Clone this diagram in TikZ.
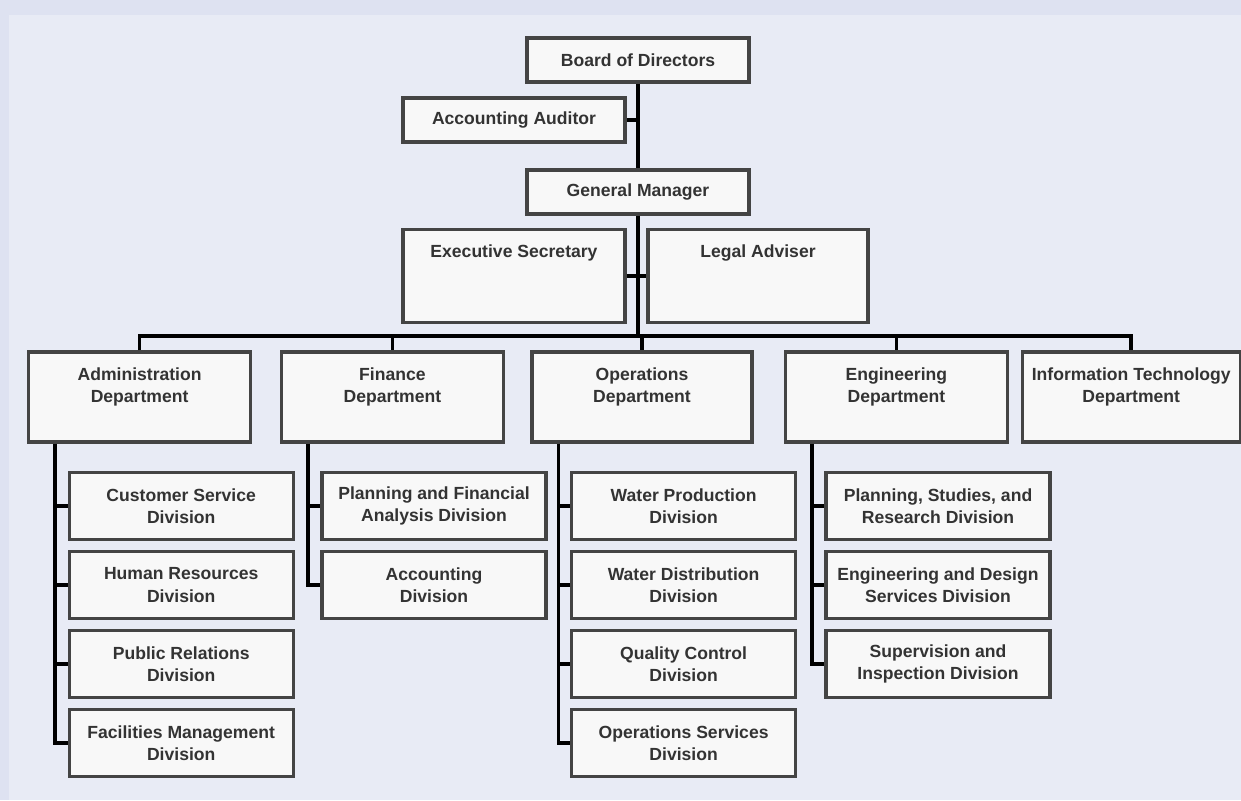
\documentclass[tikz,border=0pt]{standalone}
\usepackage{fontspec}
\setmainfont{Liberation Sans}
\usetikzlibrary{positioning,calc}

\definecolor{frame}{HTML}{DEE2F1}
\definecolor{paper}{HTML}{E8EBF5}
\definecolor{boxline}{HTML}{444444}
\definecolor{boxfill}{HTML}{F8F8F8}
\definecolor{ink}{HTML}{333333}

% text sitting at the top of a tall box
\newcommand{\topbox}[2]{\parbox[t][#1][t]{5.3cm}{\centering\rule{0pt}{0.7cm}#2}}

\begin{document}
\begin{tikzpicture}[node distance=2cm,on grid,
    font=\fontsize{12.5}{16}\selectfont\bfseries,
    unit/.style={draw=boxline,line width=2.3pt,fill=boxfill,text=ink,align=center,
                 minimum width=5.55cm,minimum height=1.1cm},
    dept/.style={unit,inner sep=0pt,minimum height=2.25cm},
    division/.style={unit,inner sep=1pt,minimum width=5.6cm,minimum height=1.675cm},
    link/.style={line width=2.6pt,black}]

      \fill[frame] (0,0) rectangle (31.025,-20);
      \fill[paper] (0.225,-0.375) rectangle (31.025,-20);
      \useasboundingbox (0,0) rectangle (31.025,-20);

      \node[unit] (board) at (15.95,-1.5) {Board of Directors};
      \node[unit] (auditor) [below left=1.5cm and 3.1cm of board] {Accounting Auditor};
      \node[unit] (gm) [below=3.3cm of board] {General Manager};
      \node[dept,minimum height=2.325cm] (secretary) [below left=2.1cm and 3.1cm of gm]
        {\topbox{2.325cm}{Executive Secretary}};
      \node[dept,minimum height=2.325cm,minimum width=5.5cm] (legal) [below right=2.1cm and 3.0cm of gm]
        {\topbox{2.325cm}{Legal Adviser}};

      % departments
      \node[dept] (admin) [below left=5.125cm and 12.46cm of gm]
        {\topbox{2.25cm}{Administration\\Department}};
      \node[dept] (finance) [right=6.32cm of admin] {\topbox{2.25cm}{Finance\\Department}};
      \node[dept,minimum width=5.5cm] (ops) [right=6.24cm of finance] {\topbox{2.25cm}{Operations\\Department}};
      \node[dept] (eng) [right=6.36cm of ops] {\topbox{2.25cm}{Engineering\\Department}};
      \node[dept,minimum width=5.45cm] (it) [right=5.87cm of eng] {\topbox{2.25cm}{Information Technology\\Department}};

      % divisions
      \node[division] (custservice) [below right=2.725cm and 1.04cm of admin] {Customer Service\\Division};
      \node[division] (humanres) [below=1.975cm of custservice] {Human Resources\\Division};
      \node[division] (pubrel) [below=1.975cm of humanres] {Public Relations\\Division};
      \node[division] (facilities) [below=1.975cm of pubrel] {Facilities Management\\Division};

      \node[division] (planfin) [below right=2.725cm and 1.04cm of finance] {Planning and Financial\\Analysis Division};
      \node[division] (accounting) [below=1.975cm of planfin] {Accounting\\Division};

      \node[division] (waterprod) [below right=2.725cm and 1.04cm of ops] {Water Production\\Division};
      \node[division] (waterdist) [below=1.975cm of waterprod] {Water Distribution\\Division};
      \node[division] (quality) [below=1.975cm of waterdist] {Quality Control\\Division};
      \node[division] (opservices) [below=1.975cm of quality] {Operations Services\\Division};

      \node[division] (planstudies) [below right=2.725cm and 1.04cm of eng] {Planning, Studies, and\\Research Division};
      \node[division] (engdesign) [below=1.975cm of planstudies] {Engineering and Design\\Services Division};
      \node[division] (supervision) [below=1.975cm of engdesign] {Supervision and\\Inspection Division};

      % top of the chart
      \draw[link] (board) -- (gm);
      \draw[link] (auditor.east) -- (auditor -| board);
      \draw[link] (secretary) -- (legal);
      \coordinate (bus) at ($(gm)+(0,-3.6)$);
      \draw[link] (gm) -- (bus);
      \draw[link] (admin) |- (bus) -| (it);
      \draw[link] (finance |- bus) -- (finance);
      \draw[link] (ops |- bus) -- (ops);
      \draw[link] (eng |- bus) -- (eng);

      % branches down to the divisions
      \coordinate (adminbr) at ($(admin.south west)+(0.7,0)$);
      \draw[link] (adminbr) |- (facilities);
      \draw[link] (adminbr |- custservice) -- (custservice);
      \draw[link] (adminbr |- humanres) -- (humanres);
      \draw[link] (adminbr |- pubrel) -- (pubrel);

      \coordinate (financebr) at ($(finance.south west)+(0.7,0)$);
      \draw[link] (financebr) |- (accounting);
      \draw[link] (financebr |- planfin) -- (planfin);

      \coordinate (opsbr) at ($(ops.south west)+(0.7,0)$);
      \draw[link] (opsbr) |- (opservices);
      \draw[link] (opsbr |- waterprod) -- (waterprod);
      \draw[link] (opsbr |- waterdist) -- (waterdist);
      \draw[link] (opsbr |- quality) -- (quality);

      \coordinate (engbr) at ($(eng.south west)+(0.7,0)$);
      \draw[link] (engbr) |- (supervision);
      \draw[link] (engbr |- planstudies) -- (planstudies);
      \draw[link] (engbr |- engdesign) -- (engdesign);
\end{tikzpicture}
\end{document}
